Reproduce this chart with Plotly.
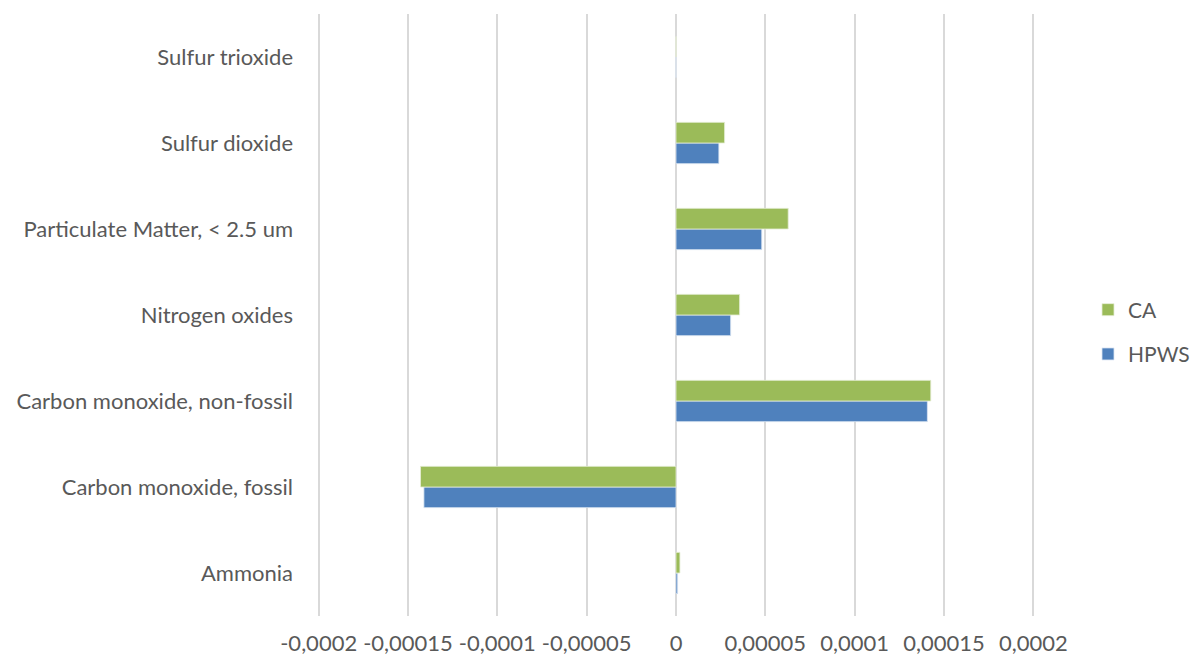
import plotly.graph_objects as go

categories = ["Ammonia", "Carbon monoxide, fossil", "Carbon monoxide, non-fossil",
              "Nitrogen oxides", "Particulate Matter, < 2.5 um", "Sulfur dioxide", "Sulfur trioxide"]
hpws = [0.9e-6, -1.411e-4, 1.407e-4, 3.06e-5, 4.8e-5, 2.4e-5, 0.0]
ca = [2.2e-6, -1.43e-4, 1.426e-4, 3.56e-5, 6.28e-5, 2.72e-5, 0.0]
tick_vals = [-0.0002, -0.00015, -0.0001, -0.00005, 0, 0.00005, 0.0001, 0.00015, 0.0002]
tick_text = ["-0,0002", "-0,00015", "-0,0001", "-0,00005", "0", "0,00005", "0,0001", "0,00015", "0,0002"]

font_family = "Lato, 'Open Sans', sans-serif"
txt_color = "#595959"
fs = 22

fig = go.Figure()
fig.add_trace(go.Bar(y=categories, x=hpws, orientation="h", name="HPWS",
                     marker=dict(color="#4F81BD", line=dict(color="#DCE6F2", width=0.8)),
                     legendgroup="b", legendrank=2))
fig.add_trace(go.Bar(y=categories, x=ca, orientation="h", name="CA",
                     marker=dict(color="#9BBB59", line=dict(color="#E6EED5", width=0.8)),
                     legendgroup="a", legendrank=1))

fig.update_layout(
    width=1193, height=659,
    margin=dict(l=316, r=157, t=14, b=43, autoexpand=False),
    paper_bgcolor="white", plot_bgcolor="white",
    barmode="group", bargap=0.52, bargroupgap=0,
    separators=",.",
    font=dict(family=font_family, size=fs, color=txt_color),
    legend=dict(xref="container", yref="container", x=1088 / 1193, y=1 - 332 / 659,
                xanchor="left", yanchor="middle", traceorder="grouped",
                tracegroupgap=14, bgcolor="rgba(0,0,0,0)",
                font=dict(family=font_family, size=21, color=txt_color)),
    xaxis=dict(range=[-0.0002015, 0.0002015], tickmode="array",
               tickvals=tick_vals, ticktext=tick_text,
               showgrid=True, gridcolor="#D9D9D9", gridwidth=1.5,
               zeroline=True, zerolinecolor="#D9D9D9", zerolinewidth=1.5,
               showline=False, ticks="", ticklabelstandoff=12, automargin=False,
               tickfont=dict(family=font_family, size=fs, color=txt_color)),
    yaxis=dict(showgrid=False, zeroline=False, showline=False, ticks="",
               ticklabelstandoff=22, automargin=False,
               tickfont=dict(family=font_family, size=fs, color=txt_color)),
)

fig.write_html("out.html", config={"displayModeBar": False},
               post_script="document.body.style.margin='0';")
